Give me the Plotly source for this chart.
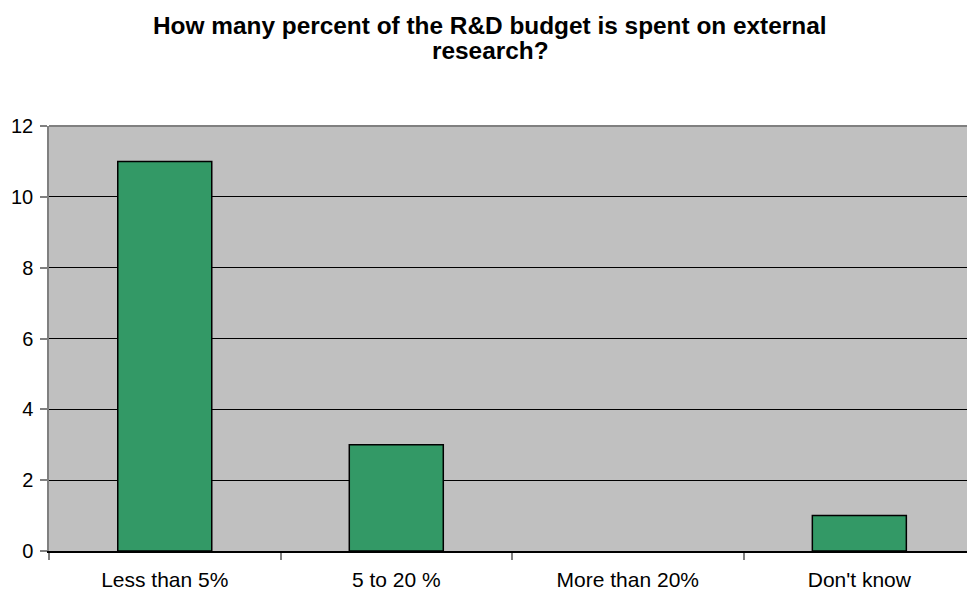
import plotly.graph_objects as go

categories = ["Less than 5%", "5 to 20 %", "More than 20%", "Don't know"]
values = [11, 3, 0, 1]
y_ticks = [0, 2, 4, 6, 8, 10, 12]
title_lines = ["How many percent of the R&D budget is spent on external", "research?"]

fig = go.Figure()
fig.add_trace(go.Bar(
    x=categories, y=values, width=0.406,
    marker=dict(color="#339966",
                line=dict(color="#000000", width=[1.5 if v > 0 else 0 for v in values])),
))

FONT = "Liberation Sans, Arial, sans-serif"
fig.update_layout(
    width=967, height=592,
    margin=dict(l=49, r=0, t=126, b=41),
    paper_bgcolor="white", plot_bgcolor="#C0C0C0",
    showlegend=False,
    font=dict(family=FONT, color="black"),
)
plot_top, plot_bottom = 126, 551
def py(pix):
    return (plot_bottom - pix) / (plot_bottom - plot_top)

for line, ypix in zip(title_lines, [25, 50]):
    fig.add_annotation(text="<b>" + line + "</b>", xref="paper", yref="paper",
                       x=(490 - 49) / 918, xanchor="center",
                       y=py(ypix), yanchor="middle", showarrow=False,
                       font=dict(size=24.4, color="black", family=FONT))

fig.update_xaxes(
    type="category", range=[-0.5, 3.465],
    showline=True, linecolor="#000000", linewidth=1.5,
    ticks="outside", tickson="boundaries", ticklen=7, tickcolor="#808080", tickwidth=1.5,
    showgrid=False, tickfont=dict(size=21), zeroline=False, ticklabelstandoff=9,
)
fig.update_yaxes(
    range=[0, 12], tickvals=y_ticks,
    showline=True, linecolor="#808080", linewidth=1.5,
    ticks="outside", ticklen=7, tickcolor="#808080", tickwidth=1.5,
    showgrid=True, gridcolor="#000000", gridwidth=1,
    tickfont=dict(size=20), zeroline=False, ticklabelstandoff=3,
)
fig.add_shape(type="line", xref="paper", yref="paper", x0=0, x1=1, y0=1, y1=1,
              line=dict(color="#808080", width=2))

fig.write_html("out.html")
